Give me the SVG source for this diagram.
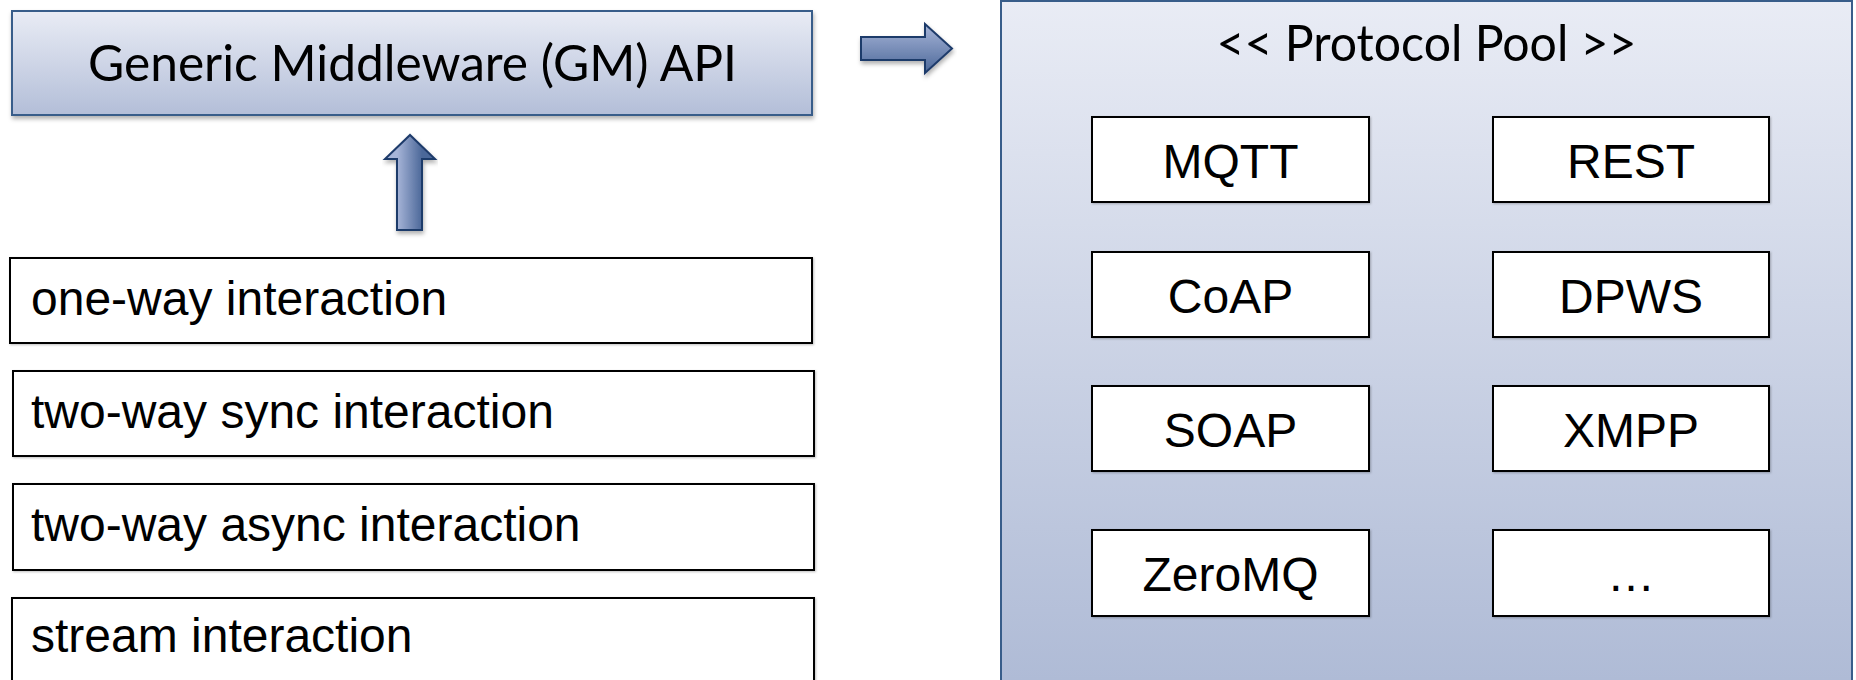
<svg xmlns="http://www.w3.org/2000/svg" width="1856" height="680" viewBox="0 0 1856 680">
<defs>
<linearGradient id="gBox" x1="0" y1="0" x2="0" y2="1">
<stop offset="0" stop-color="#E9ECF5"/>
<stop offset="1" stop-color="#B3BED8"/>
</linearGradient>
<linearGradient id="gPool" x1="0" y1="0" x2="0" y2="680" gradientUnits="userSpaceOnUse">
<stop offset="0" stop-color="#E9ECF5"/>
<stop offset="1" stop-color="#AFBBD6"/>
</linearGradient>
<linearGradient id="gArrR" x1="0" y1="24" x2="0" y2="73" gradientUnits="userSpaceOnUse">
<stop offset="0" stop-color="#A7B5D8"/>
<stop offset="1" stop-color="#4C6899"/>
</linearGradient>
<linearGradient id="gArrU" x1="397" y1="0" x2="422" y2="0" gradientUnits="userSpaceOnUse">
<stop offset="0" stop-color="#A7B5D8"/>
<stop offset="1" stop-color="#4C6899"/>
</linearGradient>
<filter id="sh" x="-5%" y="-10%" width="110%" height="130%">
<feDropShadow dx="1" dy="3" stdDeviation="2" flood-color="#000" flood-opacity="0.3"/>
</filter>
<filter id="shs" x="-5%" y="-10%" width="110%" height="130%">
<feDropShadow dx="1" dy="1" stdDeviation="1" flood-color="#000" flood-opacity="0.25"/>
</filter>
</defs>
<style>
.cal{font-family:Lato,"Open Sans","Liberation Sans",sans-serif;font-size:50px;fill:#000}
.ar{font-family:"Liberation Sans",Arial,sans-serif;font-size:48px;fill:#000}
.wbox{fill:#fff;stroke:#000;stroke-width:2;filter:url(#shs)}
.blue{stroke:#385D8A;stroke-width:2}
.arrow{stroke:#1F3B6B;stroke-width:2;stroke-linejoin:miter;filter:url(#sh)}
</style>

<g id="pool">
<rect x="1001" y="1" width="851" height="690" fill="url(#gPool)" class="blue"/>
<text x="1426.5" y="61" class="cal" text-anchor="middle" textLength="420" lengthAdjust="spacingAndGlyphs">&lt;&lt; Protocol Pool &gt;&gt;</text>
</g>

<g id="gm-api">
<rect x="12" y="11" width="800" height="104" fill="url(#gBox)" class="blue" filter="url(#sh)"/>
<text x="412.5" y="81" class="cal" text-anchor="middle" textLength="649" lengthAdjust="spacingAndGlyphs">Generic Middleware (GM) API</text>
</g>

<g id="interactions">
<g id="one-way">
<rect x="10" y="258" width="802" height="85" class="wbox"/>
<text x="31" y="315" class="ar">one-way interaction</text>
</g>
<g id="two-way-sync">
<rect x="13" y="371" width="801" height="85" class="wbox"/>
<text x="31" y="428" class="ar">two-way sync interaction</text>
</g>
<g id="two-way-async">
<rect x="13" y="484" width="801" height="86" class="wbox"/>
<text x="31" y="541" class="ar">two-way async interaction</text>
</g>
<g id="stream">
<rect x="12" y="598" width="802" height="95" class="wbox"/>
<text x="31" y="652" class="ar">stream interaction</text>
</g>
</g>

<g id="protocols">
<g id="mqtt"><rect x="1092" y="117" width="277" height="85" class="wbox"/><text x="1230.5" y="178" class="ar" text-anchor="middle">MQTT</text></g>
<g id="rest"><rect x="1493" y="117" width="276" height="85" class="wbox"/><text x="1631" y="178" class="ar" text-anchor="middle">REST</text></g>
<g id="coap"><rect x="1092" y="252" width="277" height="85" class="wbox"/><text x="1230.5" y="313" class="ar" text-anchor="middle">CoAP</text></g>
<g id="dpws"><rect x="1493" y="252" width="276" height="85" class="wbox"/><text x="1631" y="313" class="ar" text-anchor="middle">DPWS</text></g>
<g id="soap"><rect x="1092" y="386" width="277" height="85" class="wbox"/><text x="1230.5" y="447" class="ar" text-anchor="middle">SOAP</text></g>
<g id="xmpp"><rect x="1493" y="386" width="276" height="85" class="wbox"/><text x="1631" y="447" class="ar" text-anchor="middle">XMPP</text></g>
<g id="zeromq"><rect x="1092" y="530" width="277" height="86" class="wbox"/><text x="1230.5" y="591" class="ar" text-anchor="middle">ZeroMQ</text></g>
<g id="more"><rect x="1493" y="530" width="276" height="86" class="wbox"/><text x="1631" y="591" class="ar" text-anchor="middle">…</text></g>
</g>

<g id="connectors">
<path d="M397,230 L397,159 L385,159 L410,135 L435,159 L422,159 L422,230 Z" fill="url(#gArrU)" class="arrow"/>
<path d="M861,37 L925,37 L925,24 L952,48.5 L925,73 L925,60 L861,60 Z" fill="url(#gArrR)" class="arrow"/>
</g>
</svg>
